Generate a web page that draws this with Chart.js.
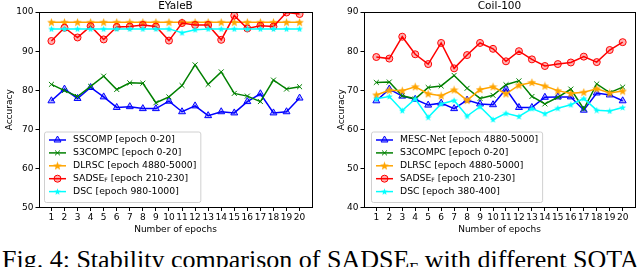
<!DOCTYPE html>
<html>
<head>
    <title>Stability comparison</title>
    <script src="https://cdn.jsdelivr.net/npm/chart.js"></script>
    <style>
        body { margin: 0; background: #fff; width: 640px; height: 267px; overflow: hidden; position: relative; }
        .plot { position: absolute; top: 0; width: 320px; height: 240px; }
        #left { left: 0; }
        #right { left: 320px; }
        .caption {
            position: absolute; left: 2px; top: 247px;
            font-family: "Liberation Serif", serif; font-size: 26px; line-height: 26px;
            white-space: nowrap; color: #000;
        }
        .caption sub { font-size: 16px; }
    </style>
</head>
<body>
    <div class="plot" id="left"><canvas id="eyaleChart" width="320" height="240"></canvas></div>
    <div class="plot" id="right"><canvas id="coilChart" width="320" height="240"></canvas></div>
    <div class="caption">Fig. 4: Stability comparison of SADSE<sub>F</sub> with different SOTA</div>

    <script>
        // x axis
        const epochs = [1, 2, 3, 4, 5, 6, 7, 8, 9, 10, 11, 12, 13, 14, 15, 16, 17, 18, 19, 20];

        // EYaleB
        const eyaleSSCOMP  = [77.3, 80.3, 77.9, 80.7, 78.3, 75.6, 75.8, 75.3, 75.3, 77.2, 74.5, 76.0, 73.5, 74.5, 74.2, 77.1, 79.1, 74.2, 74.5, 78.0];
        const eyaleS3COMPC = [81.5, 79.9, 78.4, 81.0, 83.6, 80.2, 81.9, 81.8, 76.8, 78.3, 81.2, 86.5, 81.5, 84.7, 79.2, 78.5, 77.1, 82.6, 80.3, 80.9];
        const eyaleDLRSC   = [97.4, 97.4, 97.4, 97.4, 97.4, 97.4, 97.4, 97.4, 97.4, 97.4, 97.4, 97.4, 97.4, 97.4, 97.4, 97.4, 97.4, 97.4, 97.4, 97.4];
        const eyaleSADSE   = [92.6, 96.0, 93.5, 96.4, 93.0, 96.2, 96.3, 96.7, 96.3, 92.7, 97.2, 96.7, 96.7, 92.9, 99.1, 95.8, 96.5, 96.3, 99.9, 99.5];
        const eyaleDSC     = [95.7, 95.7, 95.7, 95.7, 95.7, 95.7, 95.7, 95.7, 95.7, 95.7, 94.7, 95.5, 95.7, 95.7, 95.7, 95.7, 95.7, 95.7, 95.7, 95.7];

        // Coil-100
        const coilMESC    = [67.3, 70.3, 68.5, 67.7, 66.2, 66.7, 65.3, 67.5, 66.5, 66.3, 70.3, 65.6, 65.6, 68.2, 68.3, 68.3, 64.9, 69.3, 68.8, 67.3];
        const coilS3COMPC = [72.0, 72.1, 68.6, 67.8, 70.7, 71.1, 73.8, 70.5, 67.9, 68.7, 71.4, 72.4, 68.4, 66.5, 68.2, 70.3, 65.2, 71.6, 69.4, 70.8];
        const coilDLRSC   = [68.8, 70.0, 69.9, 70.9, 69.1, 68.6, 70.1, 67.4, 70.2, 70.9, 69.1, 71.3, 72.0, 71.1, 69.9, 69.2, 69.5, 70.4, 69.3, 69.8];
        const coilSADSE   = [78.5, 78.1, 83.7, 79.2, 76.7, 82.1, 75.6, 79.0, 82.1, 80.6, 77.4, 80.0, 77.9, 76.2, 76.7, 77.1, 78.6, 77.2, 80.3, 82.3];
        const coilDSC     = [67.8, 68.4, 64.8, 67.8, 63.1, 66.5, 67.4, 63.4, 65.8, 62.5, 64.1, 63.3, 65.3, 64.0, 65.4, 66.3, 67.9, 64.9, 64.7, 65.6];

        const eyaleNames  = ['SSCOMP', 'S3COMPC', 'DLRSC', 'SADSE', 'DSC'];
        const eyaleEpochs = ['[epoch 0-20]', '[epoch 0-20]', '[epoch 4880-5000]', '[epoch 210-230]', '[epoch 980-1000]'];
        const coilNames   = ['MESC-Net', 'S3COMPC', 'DLRSC', 'SADSE', 'DSC'];
        const coilEpochs  = ['[epoch 4880-5000]', '[epoch 0-20]', '[epoch 4880-5000]', '[epoch 210-230]', '[epoch 380-400]'];
        const subscripts  = ['', '', '', 'F', ''];

        const eyaleTicksY = [50, 60, 70, 80, 90, 100];
        const coilTicksY  = [40, 50, 60, 70, 80, 90];

        const FONT = "'DejaVu Sans', sans-serif";

        // filled star like matplotlib '*'
        function starImage(color, size) {
            const c = document.createElement('canvas');
            c.width = size; c.height = size;
            const g = c.getContext('2d');
            const cx = size / 2, cy = size / 2 + 0.3, R = size / 2, r = R * 0.42;
            g.beginPath();
            for (let i = 0; i < 10; i++) {
                const a = -Math.PI / 2 + i * Math.PI / 5;
                const rr = i % 2 ? r : R;
                g.lineTo(cx + rr * Math.cos(a), cy + rr * Math.sin(a));
            }
            g.closePath();
            g.fillStyle = color;
            g.fill();
            return c;
        }

        const styles = [
            { color: '#0000ff', fill: 'rgba(0,0,255,0.3)', point: 'triangle', radius: 4 },
            { color: '#008000', fill: 'rgba(0,0,0,0)', point: 'crossRot', radius: 3.5 },
            { color: '#ffa500', fill: '#ffa500', point: starImage('#ffa500', 9), radius: 3 },
            { color: '#ff0000', fill: 'rgba(255,0,0,0.3)', point: 'circle', radius: 3.5 },
            { color: '#00ffff', fill: '#00ffff', point: starImage('#00ffff', 7), radius: 3 }
        ];

        function makeDatasets(series, names) {
            return series.map((vals, i) => ({
                label: names[i],
                data: epochs.map((e, k) => ({ x: e, y: vals[k] })),
                borderColor: styles[i].color,
                backgroundColor: styles[i].fill,
                borderWidth: 1.5,
                pointStyle: styles[i].point,
                pointRadius: styles[i].radius,
                pointBorderWidth: 1,
                pointBorderColor: styles[i].color,
                pointBackgroundColor: styles[i].fill,
                tension: 0,
                fill: false,
                order: 5 - i   // later series on top, like matplotlib
            }));
        }

        // axes box + framed legend inside lower-left corner
        const boxPlugin = {
            id: 'boxAndLegend',
            afterDraw(chart) {
                const ctx = chart.ctx;
                const a = chart.chartArea;
                ctx.save();
                ctx.strokeStyle = '#000';
                ctx.lineWidth = 1;
                ctx.strokeRect(Math.round(a.left) + 0.5, Math.round(a.top) + 0.5,
                    Math.round(a.right - a.left), Math.round(a.bottom - a.top));

                const opts = chart.options.plugins.boxAndLegend;
                const names = opts.names, tags = opts.epochs;
                const rowH = 12.9;
                const big = '9.3px ' + FONT, small = '6px ' + FONT;
                let maxW = 0;
                names.forEach((n, i) => {
                    ctx.font = big;
                    let w = ctx.measureText(n).width;
                    if (subscripts[i]) { ctx.font = small; w += ctx.measureText(subscripts[i]).width; }
                    ctx.font = big;
                    w += ctx.measureText(' ' + tags[i]).width;
                    maxW = Math.max(maxW, w);
                });
                const fx = a.left + opts.dx, fw = 29 + maxW + 4;
                const fh = names.length * rowH + 6;
                const fy = a.bottom - 5.5 - fh;

                ctx.beginPath();
                if (ctx.roundRect) ctx.roundRect(fx + 0.5, fy + 0.5, fw, fh, 2);
                else ctx.rect(fx + 0.5, fy + 0.5, fw, fh);
                ctx.fillStyle = 'rgba(255,255,255,0.85)';
                ctx.fill();
                ctx.strokeStyle = '#d0d0d0';
                ctx.lineWidth = 1;
                ctx.stroke();

                chart.data.datasets.forEach((ds, i) => {
                    const y = fy + 8.5 + i * rowH;
                    ctx.strokeStyle = ds.borderColor;
                    ctx.lineWidth = 1.5;
                    ctx.beginPath();
                    ctx.moveTo(fx + 5, y);
                    ctx.lineTo(fx + 22, y);
                    ctx.stroke();

                    ctx.lineWidth = 1;
                    ctx.fillStyle = ds.pointBackgroundColor;
                    ctx.strokeStyle = ds.pointBorderColor;
                    Chart.helpers.drawPoint(ctx, {
                        pointStyle: ds.pointStyle, radius: ds.pointRadius, borderWidth: 1, rotation: 0
                    }, fx + 13.5, y);

                    ctx.fillStyle = '#000';
                    ctx.textBaseline = 'middle';
                    ctx.textAlign = 'left';
                    let tx = fx + 29;
                    ctx.font = big;
                    ctx.fillText(names[i], tx, y);
                    tx += ctx.measureText(names[i]).width;
                    if (subscripts[i]) {
                        ctx.font = small;
                        ctx.fillText(subscripts[i], tx, y + 2);
                        tx += ctx.measureText(subscripts[i]).width;
                        ctx.font = big;
                    }
                    ctx.fillText(' ' + tags[i], tx, y);
                });
                ctx.restore();
            }
        };

        function makeChart(id, title, series, names, tags, yMin, yMax, yTicks, yAxisWidth, yTitlePad, rightPad, legendDx) {
            const ctx = document.getElementById(id).getContext('2d');
            return new Chart(ctx, {
                type: 'line',
                data: { datasets: makeDatasets(series, names) },
                options: {
                    responsive: false,
                    devicePixelRatio: 1,
                    animation: false,
                    events: [],
                    layout: { padding: { left: 0, right: rightPad, top: 0, bottom: 0 } },
                    plugins: {
                        legend: { display: false },
                        tooltip: { enabled: false },
                        title: {
                            display: true,
                            text: title,
                            fullSize: false,
                            color: '#000',
                            font: { family: FONT, size: 10.5, weight: 'normal', lineHeight: 1.15 },
                            padding: { top: 0, bottom: 0 }
                        },
                        boxAndLegend: { names: names, epochs: tags, dx: legendDx }
                    },
                    scales: {
                        x: {
                            type: 'linear',
                            min: 0.05,
                            max: 20.95,
                            afterBuildTicks: s => { s.ticks = epochs.map(v => ({ value: v })); },
                            afterFit: s => { s.height = 32.5; },
                            border: { display: false },
                            grid: { display: true, drawOnChartArea: false, drawTicks: true, tickLength: 3.5, color: '#000' },
                            ticks: { color: '#000', padding: 1, maxRotation: 0, autoSkip: false, font: { family: FONT, size: 9 } },
                            title: { display: true, text: 'Number of epochs', color: '#000', font: { family: FONT, size: 9 }, padding: { top: 0, bottom: 5 } }
                        },
                        y: {
                            min: yMin,
                            max: yMax,
                            afterBuildTicks: s => { s.ticks = yTicks.map(v => ({ value: v })); },
                            afterFit: s => { s.width = yAxisWidth; },
                            border: { display: false },
                            grid: { display: true, drawOnChartArea: false, drawTicks: true, tickLength: 3.5, color: '#000' },
                            ticks: { color: '#000', padding: 2, font: { family: FONT, size: 9 } },
                            title: { display: true, text: 'Accuracy', color: '#000', font: { family: FONT, size: 9 }, padding: { top: yTitlePad, bottom: 0 } }
                        }
                    }
                },
                plugins: [boxPlugin]
            });
        }

        makeChart('eyaleChart', 'EYaleB',
            [eyaleSSCOMP, eyaleS3COMPC, eyaleDLRSC, eyaleSADSE, eyaleDSC],
            eyaleNames, eyaleEpochs, 50, 100, eyaleTicksY, 39, 4, 8, 5);

        makeChart('coilChart', 'Coil-100',
            [coilMESC, coilS3COMPC, coilDLRSC, coilSADSE, coilDSC],
            coilNames, coilEpochs, 40, 90, coilTicksY, 44, 16, 2, 7);
    </script>
</body>
</html>
